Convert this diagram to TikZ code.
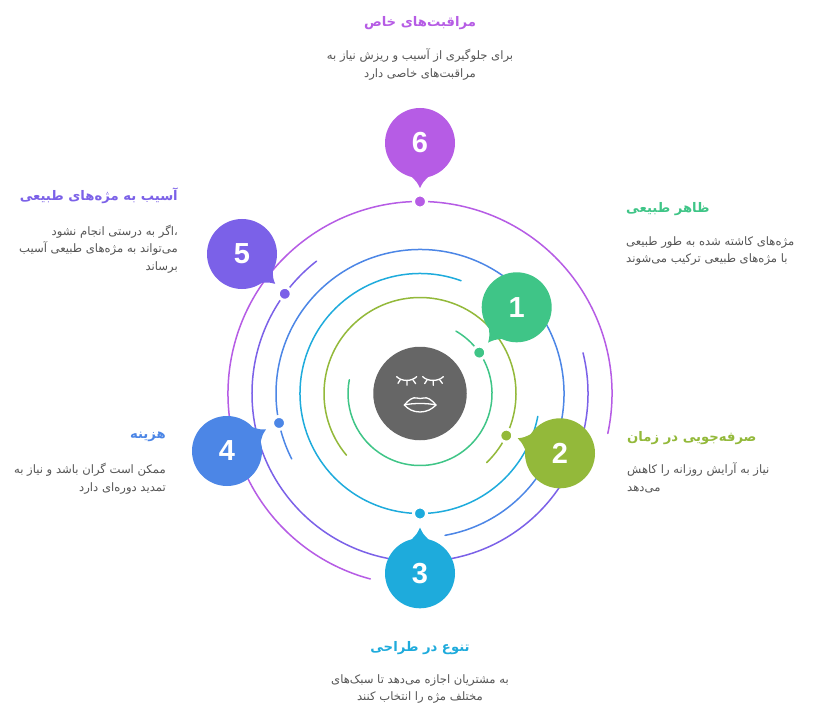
\documentclass[tikz,border=0pt]{standalone}
\usepackage{fontspec}
\TeXXeTstate=1
\newfontfamily\fafont[Script=Arabic]{DejaVu Sans}
\setmainfont{Liberation Sans}
\usetikzlibrary{calc}
\definecolor{cA}{HTML}{3FC587}
\definecolor{cB}{HTML}{93B93A}
\definecolor{cC}{HTML}{1EABDC}
\definecolor{cD}{HTML}{4C86E6}
\definecolor{cE}{HTML}{7B61E8}
\definecolor{cF}{HTML}{B65CE5}
\definecolor{faceg}{HTML}{666666}
\definecolor{bodyg}{HTML}{555555}
\newcommand{\fa}[1]{\beginR #1\endR}
\newcommand{\bubble}[7]{% name,x,y,tail angle,tip dist,number,colour
  \node[bubblebox,fill=#7] (#1) at (#2,#3) {};
  \coordinate (#1tip) at ($(#1.center)+(#4:#5)$);
  \coordinate (#1l) at ($(#1.center)+(#4+15:34.5)$);
  \coordinate (#1r) at ($(#1.center)+(#4-15:34.5)$);
  \fill[#7] (#1l) .. controls ($(#1l)!0.5!(#1tip)+(#4-90:1.5)$) .. (#1tip)
     .. controls ($(#1r)!0.5!(#1tip)+(#4+90:1.5)$) .. (#1r) -- cycle;
  \node[bubblenum] (#1n) at (#1.center) {#6};
}
\tikzset{
  x=1pt,y=1pt,
  ringarc/.style={line width=1.5pt,line cap=round},
  dotmark/.style={circle,inner sep=0pt,minimum size=13pt,draw=white,line width=3pt},
  bubblebox/.style={circle,inner sep=0pt,minimum size=70pt},
  bubblenum/.style={inner sep=0pt,text=white,font=\bfseries\fontsize{29}{29}\selectfont},
  titletxt/.style={inner sep=0pt,font=\fafont\bfseries\fontsize{13.2}{15}\selectfont},
  bodytxt/.style={inner sep=0pt,text=bodyg,font=\fafont\fontsize{11.6}{17.6}\selectfont},
  faceline/.style={white,line width=1.3pt,line cap=round,line join=round}
}
\begin{document}
\begin{tikzpicture}
\useasboundingbox (0,0) rectangle (821,716);
\fill[white] (0,0) rectangle (821,716);
\coordinate (ctr) at (420,322.5);
% rings
\draw[ringarc,cA] ($(ctr)+(60:72)$) arc[start angle=60,end angle=-191,radius=72];
\draw[ringarc,cB] ($(ctr)+(220:96)$) arc[start angle=220,end angle=-46,radius=96];
\draw[ringarc,cC] ($(ctr)+(70:120)$) arc[start angle=70,end angle=349,radius=120];
\draw[ringarc,cD] ($(ctr)+(-80:144)$) arc[start angle=-80,end angle=207,radius=144];
\draw[ringarc,cE] ($(ctr)+(128:168)$) arc[start angle=128,end angle=374,radius=168];
\draw[ringarc,cF] ($(ctr)+(-12:192)$) arc[start angle=-12,end angle=255,radius=192];
% ring dots
\node[dotmark,fill=cA] (dotA) at ($(ctr)+(34.6:72)$) {};
\node[dotmark,fill=cB] (dotB) at ($(ctr)+(-26:96)$) {};
\node[dotmark,fill=cC] (dotC) at ($(ctr)+(-90:120)$) {};
\node[dotmark,fill=cD] (dotD) at ($(ctr)+(191.8:144)$) {};
\node[dotmark,fill=cE] (dotE) at ($(ctr)+(143.6:168)$) {};
\node[dotmark,fill=cF] (dotF) at ($(ctr)+(90:192)$) {};
% face
\node[circle,fill=faceg,inner sep=0pt,minimum size=93.5pt] (face) at (ctr) {};
\begin{scope}[shift={(350,386)},xscale=1/3,yscale=-1/3,faceline]
\draw (140,140) .. controls (155,155) and (185,155) .. (200,140);
\draw (151,149) -- (144,160) (171,153) -- (171,166) (189,150) -- (197,161);
\draw (218,140) .. controls (233,155) and (265,155) .. (280,140);
\draw (231,150) -- (224,161) (250,153) -- (250,166) (269,149) -- (277,160);
\draw (163,225) .. controls (175,210) and (190,200) .. (200,204) .. controls (206,206) and (215,206) .. (221,204)
  .. controls (231,200) and (246,210) .. (258,225)
  .. controls (245,238) and (230,246) .. (210,246) .. controls (190,246) and (175,238) .. (163,225) -- cycle;
\draw (163,225) .. controls (185,219) and (235,219) .. (258,225);
\end{scope}
% bubbles
\bubble{bA}{516.7}{408.7}{231}{45.4}{1}{cA}
\bubble{bB}{560}{262.7}{160.5}{44.9}{2}{cB}
\bubble{bC}{420}{142.7}{90}{45.6}{3}{cC}
\bubble{bD}{227}{265}{29}{44.6}{4}{cD}
\bubble{bE}{242}{462}{-42}{44.6}{5}{cE}
\bubble{bF}{420}{573}{-90}{45}{6}{cF}
% texts
\node[titletxt,text=cF,anchor=center] (tF) at (420,693) {\fa{مراقبت‌های خاص}};
\node[bodytxt,align=center,anchor=north] (pF) at (420,667.5) {\fa{برای جلوگیری از آسیب و ریزش نیاز به}\\\fa{مراقبت‌های خاصی دارد}};
\node[titletxt,text=cA,anchor=west] (tA) at (626,507) {\fa{ظاهر طبیعی}};
\node[bodytxt,align=left,anchor=north west] (pA) at (626,480) {\fa{مژه‌های کاشته شده به طور طبیعی}\\\fa{با مژه‌های طبیعی ترکیب می‌شوند}};
\node[titletxt,text=cB,anchor=west] (tB) at (627,278) {\fa{صرفه‌جویی در زمان}};
\node[bodytxt,align=left,anchor=north west] (pB) at (627,253.5) {\fa{نیاز به آرایش روزانه را کاهش}\\\fa{می‌دهد}};
\node[titletxt,text=cC,anchor=center] (tC) at (420,68) {\fa{تنوع در طراحی}};
\node[bodytxt,align=center,anchor=north] (pC) at (420,42) {\fa{به مشتریان اجازه می‌دهد تا سبک‌های}\\\fa{مختلف مژه را انتخاب کنند}};
\node[titletxt,text=cD,anchor=east] (tD) at (166,279) {\fa{هزینه}};
\node[bodytxt,align=right,anchor=north east] (pD) at (166,253) {\fa{ممکن است گران باشد و نیاز به}\\\fa{تمدید دوره‌ای دارد}};
\node[titletxt,text=cE,anchor=east] (tE) at (178,520) {\fa{آسیب به مژه‌های طبیعی}};
\node[bodytxt,align=right,anchor=north east] (pE) at (178,491.5) {\fa{،اگر به درستی انجام نشود}\\\fa{می‌تواند به مژه‌های طبیعی آسیب}\\\fa{برساند}};
\end{tikzpicture}
\end{document}
